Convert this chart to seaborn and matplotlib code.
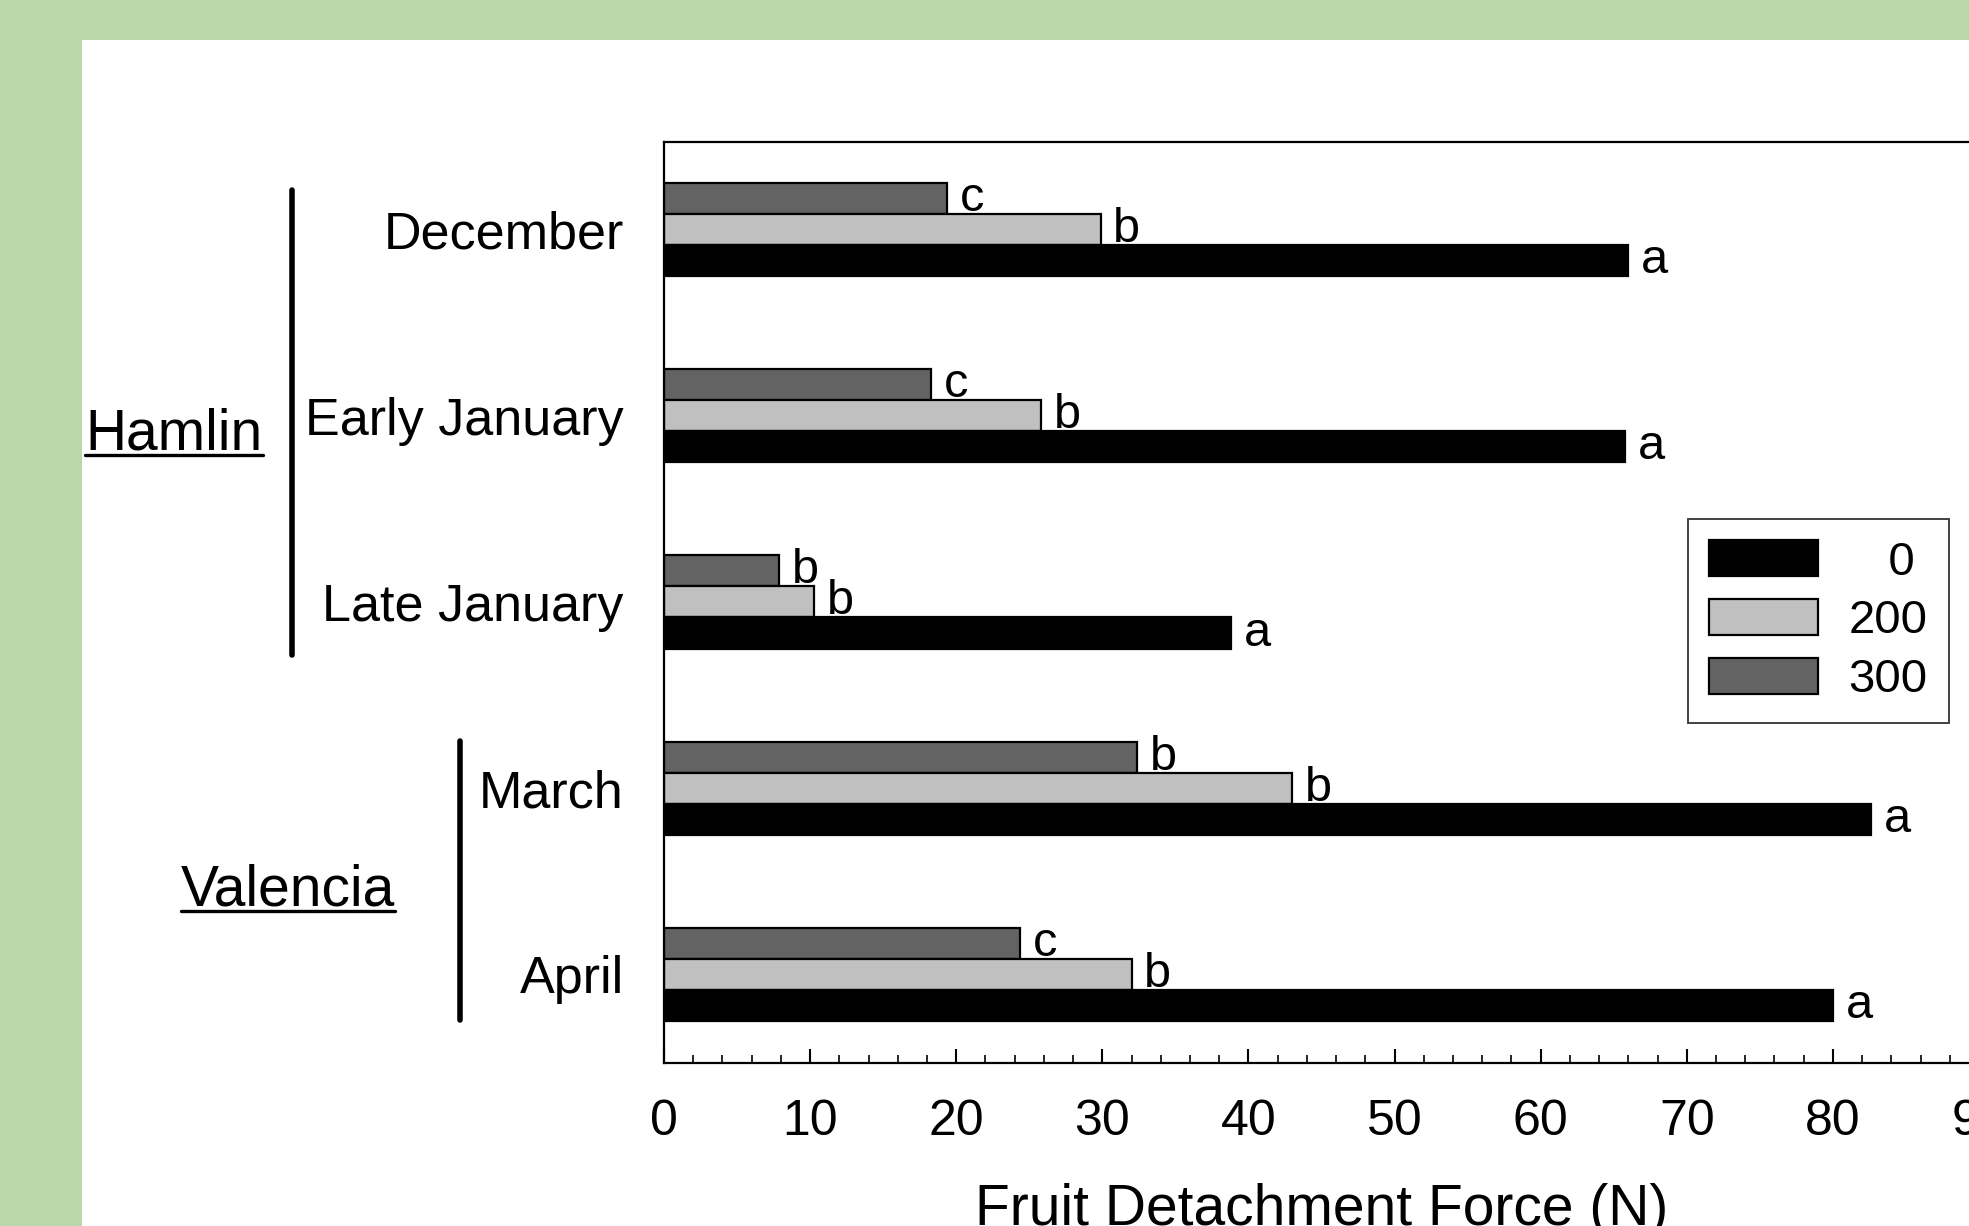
import pandas as pd
import matplotlib.pyplot as plt
import seaborn as sns
from matplotlib.patches import Patch, Rectangle
from matplotlib.lines import Line2D
from matplotlib.ticker import MultipleLocator

months = ['December', 'Early January', 'Late January', 'March', 'April']
doses = ['0', '200', '300']
force_0 = [66.0, 65.8, 38.8, 82.6, 80.0]
force_200 = [29.9, 25.8, 10.3, 43.0, 32.0]
force_300 = [19.4, 18.3, 7.9, 32.4, 24.4]
letters_0 = ['a', 'a', 'a', 'a', 'a']
letters_200 = ['b', 'b', 'b', 'b', 'b']
letters_300 = ['c', 'c', 'b', 'b', 'c']

df = pd.DataFrame({
    'Month': months * 3,
    'Dose': ['0'] * 5 + ['200'] * 5 + ['300'] * 5,
    'Force': force_0 + force_200 + force_300,
})

sns.set_theme(style='white')
plt.rcParams['font.family'] = ['Liberation Sans', 'DejaVu Sans']
plt.rcParams['text.color'] = 'black'
plt.rcParams['axes.labelcolor'] = 'black'
plt.rcParams['xtick.color'] = 'black'
plt.rcParams['ytick.color'] = 'black'

colors = {'0': '#000000', '200': '#c0c0c0', '300': '#636363'}
hue_order = ['300', '200', '0']  # top to bottom within each group

fig = plt.figure(figsize=(19.69, 12.26), dpi=100)
fig.patch.set_facecolor('#b8d8aa')
fig.add_artist(Rectangle((82 / 1969, 0), 1, 1 - 40 / 1226, transform=fig.transFigure,
                         facecolor='white', edgecolor='none', zorder=-1))

ax = fig.add_axes([0.3372, 0.1330, 0.6679, 0.7512])
sns.barplot(data=df, x='Force', y='Month', hue='Dose', order=months, hue_order=hue_order,
            palette=colors, orient='h', width=0.5, edgecolor='black', linewidth=1.6,
            legend=False, ax=ax)

# significance letters
letter_map = {'0': letters_0, '200': letters_200, '300': letters_300}
for cont, dose in zip(ax.containers, hue_order):
    ax.bar_label(cont, labels=letter_map[dose], padding=9, fontsize=35, color='black')

ax.set_xlim(0, 90)
ax.set_ylim(4.477, -0.472)
ax.xaxis.set_major_locator(MultipleLocator(10))
ax.xaxis.set_minor_locator(MultipleLocator(2))
ax.tick_params(axis='x', which='major', direction='in', length=10, width=1.5,
               labelsize=36, pad=26, bottom=True)
ax.tick_params(axis='x', which='minor', direction='in', length=6, width=1.2, bottom=True)
ax.tick_params(axis='y', length=0, labelsize=37.5, pad=29)
for s in ax.spines.values():
    s.set_color('black')
    s.set_linewidth(1.6)
ax.spines['right'].set_visible(False)
ax.set_ylabel('')
ax.set_xlabel('Fruit Detachment Force (N)', fontsize=41, va='baseline')
ax.xaxis.set_label_coords(0.5, -0.176)

handles = [Patch(facecolor=colors[d], edgecolor='black', linewidth=1.6) for d in doses]
labels = ['\u2007 0', '200', '300']
leg = ax.legend(handles, labels, loc='upper right', bbox_to_anchor=(1949 / 1969, 1 - 519 / 1226),
                bbox_transform=fig.transFigure, borderaxespad=0, fontsize=34, frameon=True,
                fancybox=False, handlelength=2.3, handleheight=0.8, labelspacing=0.3,
                handletextpad=0.65, borderpad=0.45)
leg.get_frame().set_edgecolor('black')
leg.get_frame().set_linewidth(1.3)

# cultivar group labels with brackets
W, H = 1969, 1226
t1 = fig.text(174 / W, 1 - 450 / H, 'Hamlin', fontsize=41, ha='center', va='baseline')
t2 = fig.text(288 / W, 1 - 905 / H, 'Valencia', fontsize=41, ha='center', va='baseline')
fig.add_artist(Line2D([292 / W, 292 / W], [1 - 190 / H, 1 - 655 / H], color='black', lw=4))
fig.add_artist(Line2D([460 / W, 460 / W], [1 - 741 / H, 1 - 1020 / H], color='black', lw=4))

fig.canvas.draw()
renderer = fig.canvas.get_renderer()
for t, yy in [(t1, 455), (t2, 911)]:
    bb = t.get_window_extent(renderer).transformed(fig.transFigure.inverted())
    fig.add_artist(Line2D([bb.x0, bb.x1], [1 - yy / H, 1 - yy / H], color='black', lw=2.4))

fig.savefig('out.png', dpi=100, facecolor=fig.get_facecolor())
